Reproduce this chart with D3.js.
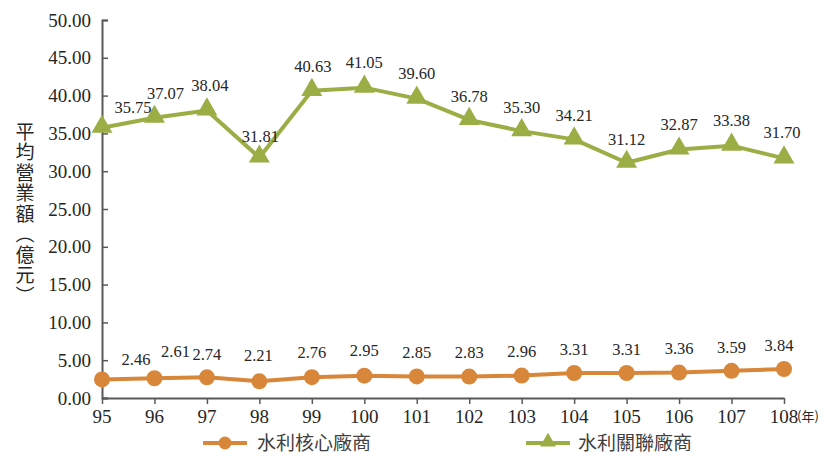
<!DOCTYPE html>
<html>
<head>
<meta charset="utf-8">
<script src="https://cdn.jsdelivr.net/npm/d3@7"></script>
<style>
  html, body { margin: 0; padding: 0; background: #fff; }
  svg { display: block; }
</style>
</head>
<body>
<svg id="chart" width="828" height="456"></svg>
<script>
// Years (ROC calendar)
const years = ["95","96","97","98","99","100","101","102","103","104","105","106","107","108"];
// Average revenue, hundred-million NTD
const coreValues = [2.46, 2.61, 2.74, 2.21, 2.76, 2.95, 2.85, 2.83, 2.96, 3.31, 3.31, 3.36, 3.59, 3.84];
const relatedValues = [35.75, 37.07, 38.04, 31.81, 40.63, 41.05, 39.60, 36.78, 35.30, 34.21, 31.12, 32.87, 33.38, 31.70];
const yTicks = [0, 5, 10, 15, 20, 25, 30, 35, 40, 45, 50];
const seriesNames = ["水利核心廠商", "水利關聯廠商"];
const yTitle = "平均營業額（億元）";
const xUnit = "(年)";

const svg = d3.select("#chart");
const numFont = "'Liberation Serif', 'Times New Roman', serif";
const cjkFont = "'Noto Sans CJK TC', 'Noto Sans CJK SC', sans-serif";
const axisColor = "#595959";
const textColor = "#262626";
const orange = "#D8873A";
const green = "#9AAE45";

const x = d3.scalePoint().domain(years).range([102, 784]);
const y = d3.scaleLinear().domain([0, 50]).range([398, 20]);

// Y axis
const yAxis = svg.append("g").attr("transform", "translate(102,0)")
  .call(d3.axisRight(y).tickValues(yTicks).tickSize(6).tickFormat(""));
yAxis.select(".domain").attr("stroke", axisColor).attr("stroke-width", 2);
yAxis.selectAll(".tick line").attr("stroke", axisColor).attr("stroke-width", 1.5);
svg.append("g").selectAll("text").data(yTicks).join("text")
  .attr("x", 91).attr("y", d => y(d)).attr("dy", "0.35em")
  .attr("text-anchor", "end")
  .attr("font-family", numFont).attr("font-size", 19)
  .attr("fill", textColor)
  .text(d => d3.format(".2f")(d));

// X axis
const xAxis = svg.append("g").attr("transform", "translate(0,398)")
  .call(d3.axisBottom(x).tickSize(6).tickSizeOuter(0).tickFormat(""));
xAxis.select(".domain").attr("stroke", axisColor).attr("stroke-width", 2);
xAxis.selectAll(".tick line").attr("stroke", axisColor).attr("stroke-width", 1.5);
svg.append("g").selectAll("text").data(years).join("text")
  .attr("x", d => x(d)).attr("y", 416).attr("dy", "0.35em")
  .attr("text-anchor", "middle")
  .attr("font-family", numFont).attr("font-size", 19)
  .attr("fill", textColor)
  .text(d => d);
svg.append("text")
  .attr("x", 797).attr("y", 416).attr("dy", "0.35em")
  .attr("font-family", cjkFont).attr("font-size", 13)
  .attr("fill", textColor)
  .text(xUnit);

// Y title, set vertically
svg.append("text")
  .attr("x", 25).attr("y", 122)
  .attr("font-family", cjkFont).attr("font-size", 19)
  .attr("fill", textColor)
  .style("writing-mode", "vertical-rl")
  .style("text-orientation", "mixed")
  .style("letter-spacing", "1.5px")
  .text(yTitle);

const line = d3.line().x((d, i) => x(years[i])).y(d => y(d));

// Related firms series (green, triangles)
svg.append("path").datum(relatedValues)
  .attr("d", line).attr("fill", "none")
  .attr("stroke", green).attr("stroke-width", 4).attr("stroke-linejoin", "round");
const tri = d3.symbol().type(d3.symbolTriangle).size(190);
svg.append("g").selectAll("path").data(relatedValues).join("path")
  .attr("d", tri)
  .attr("transform", (d, i) => `translate(${x(years[i])},${y(d) - 1})`)
  .attr("fill", green);

// Core firms series (orange, circles)
svg.append("path").datum(coreValues)
  .attr("d", line).attr("fill", "none")
  .attr("stroke", orange).attr("stroke-width", 4).attr("stroke-linejoin", "round");
svg.append("g").selectAll("circle").data(coreValues).join("circle")
  .attr("cx", (d, i) => x(years[i])).attr("cy", d => y(d)).attr("r", 8)
  .attr("fill", orange);

// Value labels (first points nudged right to clear the axis)
const relDx = [31, 11, 3, 1, 1, 0, 0, 0, 0, 0, 0, 0, 0, -2];
const relDy = [-21, -25, -25, -21, -25, -25, -25, -24, -24, -24, -24, -25, -25, -26];
const coreDx = [34, 21, 0, -1, 0, 0, 0, 0, 0, 0, 0, 0, 0, -5];
const coreDy = [-20, -27, -23, -26, -25, -25, -24, -24, -24, -24, -24, -24, -24, -24];
const fmt = d3.format(".2f");
svg.append("g").selectAll("text").data(relatedValues).join("text")
  .attr("x", (d, i) => x(years[i]) + relDx[i])
  .attr("y", (d, i) => y(d) + relDy[i]).attr("dy", "0.35em")
  .attr("text-anchor", "middle")
  .attr("font-family", numFont).attr("font-size", 16.5)
  .attr("fill", textColor)
  .text(d => fmt(d));
svg.append("g").selectAll("text").data(coreValues).join("text")
  .attr("x", (d, i) => x(years[i]) + coreDx[i])
  .attr("y", (d, i) => y(d) + coreDy[i]).attr("dy", "0.35em")
  .attr("text-anchor", "middle")
  .attr("font-family", numFont).attr("font-size", 16.5)
  .attr("fill", textColor)
  .text(d => fmt(d));

// Legend
const legend = svg.append("g");
legend.append("line").attr("x1", 203).attr("x2", 247).attr("y1", 443).attr("y2", 443)
  .attr("stroke", orange).attr("stroke-width", 4);
legend.append("circle").attr("cx", 225).attr("cy", 443).attr("r", 6.5).attr("fill", orange);
legend.append("text").attr("x", 257).attr("y", 443).attr("dy", "0.35em")
  .attr("font-family", cjkFont).attr("font-size", 19).attr("fill", "#404040")
  .text(seriesNames[0]);
legend.append("line").attr("x1", 526).attr("x2", 570).attr("y1", 443).attr("y2", 443)
  .attr("stroke", green).attr("stroke-width", 4);
legend.append("path").attr("d", d3.symbol().type(d3.symbolTriangle).size(110))
  .attr("transform", "translate(548,442)").attr("fill", green);
legend.append("text").attr("x", 578).attr("y", 443).attr("dy", "0.35em")
  .attr("font-family", cjkFont).attr("font-size", 19).attr("fill", "#404040")
  .text(seriesNames[1]);
</script>
</body>
</html>
